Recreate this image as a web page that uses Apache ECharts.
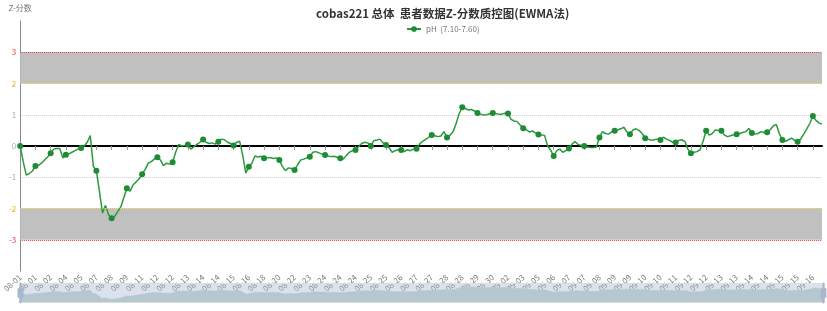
<!DOCTYPE html>
<html>
<head>
<meta charset="utf-8">
<script src="https://cdn.jsdelivr.net/npm/echarts@6/dist/echarts.min.js"></script>
<style>
html,body{margin:0;padding:0;background:#fff;}
#chart{width:827px;height:311px;}
</style>
</head>
<body>
<div id="chart"></div>
<script>
// Tick labels shown on the x axis (one every 5 data points)
const tickLabels = ['08-01','08-01','08-02','08-04','08-05','08-07','08-08','08-09','08-11','08-12',
  '08-12','08-13','08-14','08-14','08-15','08-16','08-18','08-20','08-22','08-23',
  '08-24','08-24','08-24','08-25','08-25','08-26','08-27','08-27','08-28',
  '08-28','08-29','08-30','09-02','09-03','09-05','09-06','09-07','09-07','09-08',
  '09-09','09-09','09-10','09-10','09-11','09-12','09-12','09-13','09-13','09-14',
  '09-14','09-15','09-15','09-16'];
const pointsPerTick = 5;

// EWMA Z-scores, pH (7.10-7.60)
const zValues = [
  0, -0.5, -0.93, -0.88, -0.8,
  -0.64, -0.62, -0.55, -0.45, -0.35,
  -0.23, -0.1, -0.08, -0.08, -0.38,
  -0.28, -0.25, -0.2, -0.15, -0.1,
  -0.06, 0.0, 0.12, 0.33, -0.65,
  -0.79, -1.45, -2.14, -1.9, -2.2,
  -2.31, -2.25, -2.1, -1.95, -1.65,
  -1.35, -1.45, -1.25, -1.15, -1.05,
  -0.9, -0.75, -0.55, -0.5, -0.42,
  -0.36, -0.45, -0.63, -0.55, -0.58,
  -0.52, -0.2, 0.05, 0.0, 0.02,
  0.05, -0.1, -0.02, 0.05, 0.12,
  0.21, 0.12, 0.08, 0.1, 0.06,
  0.14, 0.22, 0.2, 0.12, 0.08,
  0.02, 0.12, 0.15, -0.3, -0.87,
  -0.66, -0.55, -0.32, -0.35, -0.33,
  -0.39, -0.38, -0.37, -0.4, -0.38,
  -0.45, -0.65, -0.79, -0.7, -0.72,
  -0.77, -0.6, -0.45, -0.42, -0.38,
  -0.34, -0.2, -0.18, -0.22, -0.26,
  -0.29, -0.32, -0.34, -0.33, -0.36,
  -0.39, -0.42, -0.3, -0.2, -0.15,
  -0.13, -0.02, 0.08, 0.12, 0.1,
  0.0, 0.17, 0.19, 0.22, 0.1,
  0.03, -0.05, -0.2, -0.15, -0.12,
  -0.13, -0.18, -0.12, -0.15, -0.1,
  -0.09, 0.06, 0.15, 0.21, 0.28,
  0.35, 0.33, 0.3, 0.32, 0.46,
  0.27, 0.35, 0.46, 0.72, 1.04,
  1.24, 1.2, 1.15, 1.17, 1.12,
  1.06, 1.02, 0.99, 1.0, 1.03,
  1.06, 1.04, 1.02, 1.02, 1.05,
  1.04, 0.85, 0.8, 0.78, 0.67,
  0.57, 0.52, 0.45, 0.48, 0.42,
  0.37, 0.35, 0.34, 0.0, -0.13,
  -0.32, -0.15, -0.1, -0.2, -0.15,
  -0.08, 0.06, 0.14, 0.05, 0.02,
  0.0, -0.03, -0.05, -0.05, -0.03,
  0.27, 0.46, 0.4, 0.38, 0.45,
  0.49, 0.52, 0.55, 0.6, 0.45,
  0.38, 0.51, 0.55, 0.5, 0.4,
  0.25, 0.22, 0.18, 0.2, 0.22,
  0.19, 0.28, 0.22, 0.18, 0.12,
  0.11, 0.18, 0.2, 0.15, -0.1,
  -0.23, -0.2, -0.18, -0.12, 0.15,
  0.49, 0.35, 0.4, 0.51, 0.5,
  0.49, 0.35, 0.3, 0.33, 0.36,
  0.38, 0.4, 0.43, 0.46, 0.56,
  0.42, 0.38, 0.4, 0.46, 0.43,
  0.44, 0.52, 0.64, 0.69, 0.4,
  0.19, 0.15, 0.2, 0.25, 0.18,
  0.14, 0.22, 0.38, 0.55, 0.72,
  0.96, 0.82, 0.74, 0.7
];

const seriesName = 'pH  (7.10-7.60)';
const warnLimits = [-2, 2];
const controlLimits = [-3, 3];

// category per data point: date of the tick it belongs to
const categories = zValues.map((v, i) => tickLabels[Math.min(tickLabels.length - 1, Math.floor(i / pointsPerTick))]);

const FONT = '"Noto Sans CJK SC", "Noto Sans", sans-serif';
const chart = echarts.init(document.getElementById('chart'), null, {renderer: 'canvas'});

const handleV4 = 'path://M8.2,13.6V3.9H6.3v9.7H3.1v14.9h3.3v9.7h1.8v-9.7h3.3V13.6H8.2z M9.7,24.4H4.8v-1.4h4.9V24.4z M9.7,19.1H4.8v-1.4h4.9V19.1z';

const option = {
  animation: false,
  textStyle: {fontFamily: FONT},
  title: {
    text: 'cobas221 总体  患者数据Z-分数质控图(EWMA法)',
    left: 311, top: 3,
    textStyle: {fontSize: 11.5, fontWeight: 'bold', color: '#333', fontFamily: FONT}
  },
  legend: {
    left: 401, top: 20,
    itemWidth: 14, itemHeight: 7, itemGap: 8,
    textStyle: {fontSize: 8, color: '#777', fontFamily: FONT},
    data: [seriesName]
  },
  grid: {left: 17, right: 5, top: 21, bottom: 40, containLabel: false},
  xAxis: [
    {
      type: 'category', data: categories, boundaryGap: false, position: 'bottom',
      axisLine: {show: false, onZero: false},
      axisTick: {show: false},
      axisLabel: {interval: pointsPerTick - 1, rotate: 42, fontSize: 8, color: '#777', margin: 5, fontFamily: FONT},
      splitLine: {show: false}
    },
    {
      type: 'category', data: categories, boundaryGap: false, position: 'bottom',
      axisLine: {show: true, onZero: true, lineStyle: {color: '#000', width: 2}},
      axisTick: {show: true, interval: pointsPerTick - 1, length: 4, lineStyle: {color: '#999'}},
      axisLabel: {show: false},
      splitLine: {show: false}
    }
  ],
  yAxis: {
    type: 'value', min: -4, max: 4, interval: 1,
    name: 'Z-分数', nameLocation: 'end', nameGap: 9,
    nameTextStyle: {fontSize: 8, color: '#777', fontFamily: FONT},
    axisLine: {show: true, lineStyle: {color: '#888'}},
    axisTick: {show: false},
    axisLabel: {
      fontSize: 8, margin: 4, fontFamily: FONT,
      formatter: v => (Math.abs(v) >= 4 ? '' : String(v)),
      color: v => (Math.abs(v) === 3 ? '#e03b3b' : Math.abs(v) === 2 ? '#d4b21c' : '#aaa')
    },
    splitLine: {
      show: true,
      lineStyle: {type: 'dotted', width: 1,
        color: ['transparent','transparent','transparent','#c8c8c8','transparent','#c8c8c8','transparent','transparent','transparent']}
    }
  },
  dataZoom: [{
    type: 'slider', xAxisIndex: [0, 1], start: 0, end: 100,
    left: 17, right: 5, bottom: 8, height: 20,
    showDetail: false, brushSelect: false,
    showDataShadow: true,
    backgroundColor: 'rgba(47,69,84,0)',
    borderColor: '#ddd',
    fillerColor: 'rgba(167,183,204,0.4)',
    handleIcon: handleV4,
    handleSize: '100%',
    handleStyle: {color: '#a7b7cc', borderColor: '#a7b7cc'},
    moveHandleSize: 0,
    dataBackground: {
      lineStyle: {color: '#bfd4d3', width: 0.5, opacity: 1},
      areaStyle: {color: '#bfd4d3', opacity: 1}
    },
    selectedDataBackground: {
      lineStyle: {color: '#bfd4d3', width: 0.5, opacity: 1},
      areaStyle: {color: '#bfd4d3', opacity: 1}
    }
  }],
  series: [{
    name: seriesName, type: 'line', xAxisIndex: 0, data: zValues,
    smooth: false,
    showAllSymbol: 'auto', symbol: 'circle', symbolSize: 6,
    lineStyle: {color: '#2a9a3c', width: 1.5},
    itemStyle: {color: '#1e8c35'},
    markArea: {
      silent: true,
      itemStyle: {color: '#c0c0c0'},
      data: [
        [{yAxis: controlLimits[0]}, {yAxis: warnLimits[0]}],
        [{yAxis: warnLimits[1]}, {yAxis: controlLimits[1]}]
      ]
    },
    markLine: {
      silent: true, symbol: 'none', label: {show: false},
      data: [
        {yAxis: controlLimits[1], lineStyle: {color: '#e03b3b', type: 'dotted', width: 1}},
        {yAxis: warnLimits[1], lineStyle: {color: '#e0c020', type: 'dotted', width: 1}},
        {yAxis: warnLimits[0], lineStyle: {color: '#e0c020', type: 'dotted', width: 1}},
        {yAxis: controlLimits[0], lineStyle: {color: '#e03b3b', type: 'dotted', width: 1}}
      ]
    }
  }]
};
chart.setOption(option);
</script>
</body>
</html>
